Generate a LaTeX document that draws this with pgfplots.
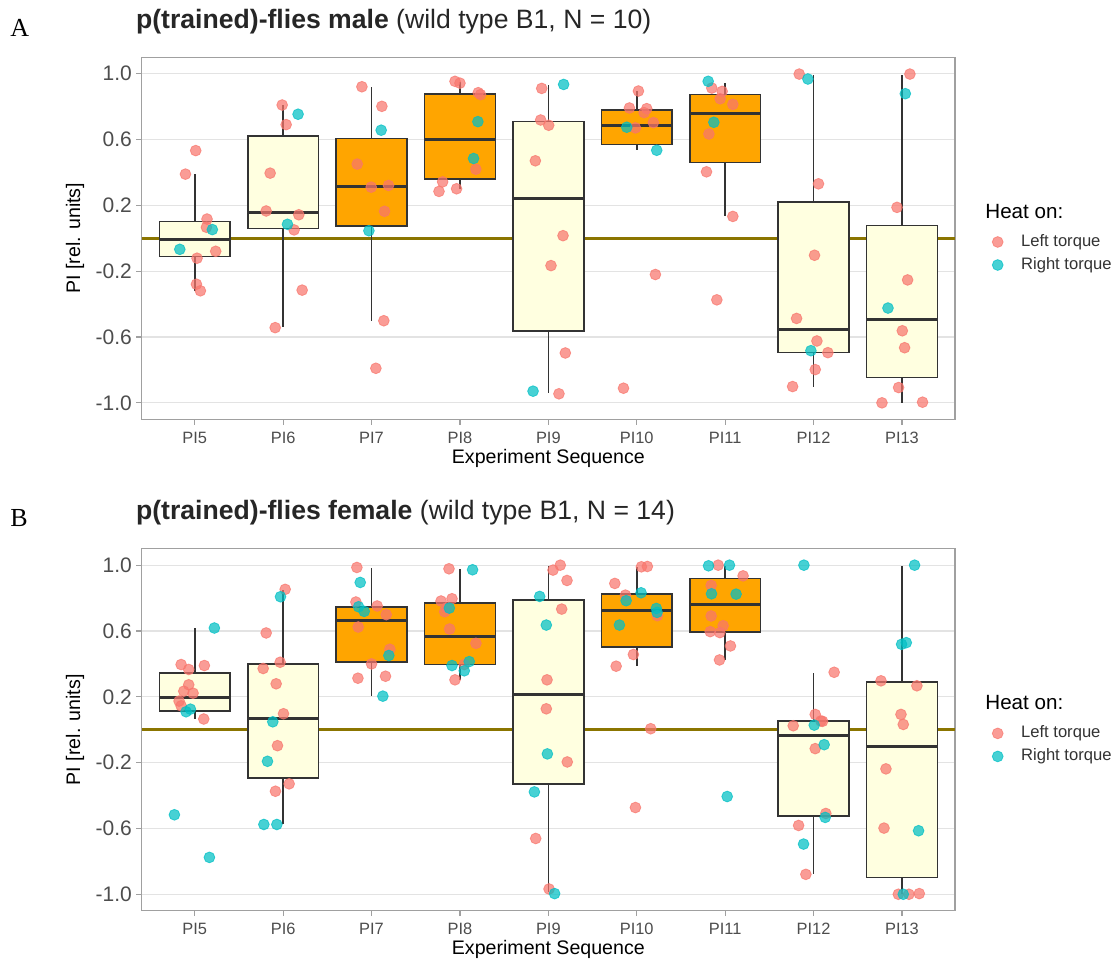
\documentclass[border=0pt]{standalone}
\usepackage{fontspec}
\setmainfont{Liberation Sans}
\newfontfamily\serifA{Liberation Serif}
\usepackage{pgfplots}
\usepackage{pgfplotstable}
\pgfplotsset{compat=1.18}
\usepgfplotslibrary{statistics}

\definecolor{pinkc}{HTML}{F8766D}
\definecolor{cyanc}{HTML}{00BFC4}
\definecolor{zeroc}{HTML}{8B7500}
\definecolor{boxc}{HTML}{333333}
\definecolor{lyel}{HTML}{FFFFE0}
\definecolor{orng}{HTML}{FFA500}
\definecolor{gridc}{HTML}{E3E3E3}
\definecolor{framec}{HTML}{A0A0A0}
\definecolor{tickc}{HTML}{4D4D4D}
\definecolor{titlec}{HTML}{262626}

% Panel A points: x = category index + jitter, y = PI
\pgfplotstableread{
x y
0.011 0.533
-0.105 0.390
0.139 0.117
0.132 0.067
0.237 -0.079
0.026 -0.121
0.019 -0.279
0.064 -0.319
0.989 0.810
1.034 0.691
0.853 0.396
0.808 0.166
1.177 0.143
1.124 0.051
1.215 -0.315
0.910 -0.543
1.891 0.921
2.117 0.802
1.838 0.451
1.996 0.311
2.192 0.321
2.147 0.164
2.139 -0.501
2.049 -0.790
2.944 0.954
3.000 0.943
3.207 0.885
3.233 0.873
3.180 0.420
2.804 0.343
2.763 0.285
2.962 0.301
3.925 0.911
3.913 0.719
4.004 0.687
3.853 0.471
4.166 0.016
4.030 -0.166
4.192 -0.697
4.120 -0.945
5.019 0.895
4.917 0.792
5.113 0.788
5.083 0.764
5.188 0.703
4.985 0.671
5.211 -0.220
4.850 -0.911
5.849 0.913
5.966 0.893
5.944 0.848
6.087 0.814
5.816 0.634
5.789 0.404
6.087 0.133
5.906 -0.374
6.838 0.998
7.056 0.331
7.011 -0.103
6.808 -0.487
7.038 -0.624
7.162 -0.695
7.019 -0.798
6.763 -0.901
8.090 0.998
7.944 0.188
8.064 -0.253
8.004 -0.562
8.030 -0.665
7.962 -0.907
7.774 -1.000
8.233 -0.996
}\Apink
\pgfplotstableread{
x y
0.199 0.053
-0.169 -0.067
1.169 0.754
1.049 0.085
2.109 0.657
1.970 0.046
3.203 0.709
3.154 0.485
4.173 0.935
3.827 -0.929
4.887 0.675
5.226 0.535
5.808 0.954
5.872 0.705
6.936 0.968
6.970 -0.683
8.038 0.879
7.842 -0.424
}\Acyan
% Panel B points
\pgfplotstableread{
x y
-0.154 0.396
0.109 0.390
-0.068 0.366
-0.068 0.273
-0.124 0.234
-0.019 0.222
-0.177 0.174
-0.154 0.145
0.102 0.065
1.023 0.853
0.808 0.588
0.774 0.372
0.966 0.410
0.921 0.279
1.004 0.097
0.936 -0.097
1.068 -0.329
0.913 -0.374
1.834 0.986
1.823 0.776
2.064 0.752
2.166 0.699
1.849 0.624
2.207 0.489
2.000 0.400
1.846 0.313
2.158 0.325
2.876 0.978
2.786 0.782
2.910 0.796
2.827 0.717
2.883 0.612
3.181 0.525
3.049 0.396
2.944 0.303
2.850 0.740
4.135 1.000
4.053 0.970
4.211 0.907
4.151 0.733
3.985 0.303
3.977 0.127
4.214 -0.196
3.857 -0.661
4.008 -0.968
5.053 0.990
5.120 0.992
4.752 0.889
4.872 0.818
5.233 0.693
4.962 0.457
4.767 0.386
5.158 0.006
4.985 -0.473
5.921 1.000
6.203 0.935
5.842 0.877
5.842 0.691
5.977 0.632
5.831 0.596
5.940 0.590
6.060 0.509
5.936 0.424
7.233 0.349
7.019 0.093
7.083 0.053
7.102 0.051
6.770 0.024
7.019 -0.115
7.139 -0.509
6.831 -0.582
6.913 -0.879
7.763 0.297
8.169 0.267
7.989 0.093
8.015 0.032
7.819 -0.238
7.797 -0.598
7.959 -1.000
8.079 -1.000
8.196 -0.996
}\Bpink
\pgfplotstableread{
x y
0.222 0.618
-0.049 0.125
-0.098 0.109
-0.230 -0.517
0.166 -0.776
0.970 0.808
0.883 0.048
0.823 -0.192
0.782 -0.576
0.929 -0.576
1.872 0.895
1.853 0.747
1.917 0.719
2.196 0.451
2.128 0.204
3.143 0.972
2.880 0.739
2.910 0.390
3.105 0.414
3.049 0.358
3.902 0.810
3.977 0.636
3.989 -0.147
3.842 -0.378
4.071 -0.996
4.880 0.784
5.049 0.832
5.222 0.737
5.230 0.713
4.804 0.636
5.812 0.996
6.049 1.000
5.846 0.826
6.124 0.824
6.023 -0.406
6.891 1.000
7.008 0.028
7.120 -0.091
7.132 -0.533
6.887 -0.695
8.143 1.000
7.996 0.519
8.049 0.529
8.188 -0.614
8.015 -1.000
}\Bcyan

\pgfplotsset{
  boxplot/draw direction=y,
  boxplot/every median/.style={line width=1.5pt},
  panel/.style={
    scale only axis, width=406.65pt, height=181pt,
    xmin=-0.6, xmax=8.6, ymin=-1.1, ymax=1.1,
    xtick={0,1,2,3,4,5,6,7,8},
    xticklabels={PI5,PI6,PI7,PI8,PI9,PI10,PI11,PI12,PI13},
    ytick={-1,-0.6,-0.2,0.2,0.6,1},
    yticklabels={-1.0,-0.6,-0.2,0.2,0.6,1.0},
    ymajorgrids, grid style={gridc, line width=0.6pt},
    axis line style={framec, line width=0.75pt},
    tick align=outside, major tick length=2.75pt, tick pos=left,
    tick style={framec, line width=0.6pt},
    xticklabel style={font=\fontsize{8.2}{10}\selectfont, text=tickc},
    yticklabel style={font=\fontsize{10.5}{12}\selectfont, text=tickc, inner xsep=2pt},
    xlabel={Experiment Sequence},
    ylabel={PI [rel. units]},
    every axis x label/.style={font=\fontsize{9.8}{12}\selectfont, at={(axis description cs:0.5,-0.107)}, anchor=center},
    every axis y label/.style={font=\fontsize{9.8}{12}\selectfont, at={(axis description cs:-0.082,0.5)}, anchor=center, rotate=90},
    every axis title/.style={at={(axis description cs:0,1)}, anchor=base west, xshift=-3pt, yshift=14.5pt, font=\fontsize{13.3}{16}\selectfont, text=titlec, inner sep=0pt},
    legend style={at={(axis description cs:1.0454,0.458)}, anchor=west, draw=none, fill=none,
      inner xsep=0pt, inner ysep=0pt, font=\fontsize{8.3}{10}\selectfont, row sep=0pt,
      nodes={inner sep=2pt, text=boxc},
      /tikz/every odd column/.style={column sep=7pt}},
    legend cell align=left,
    clip=false,
  },
  lbox/.style={draw=boxc, line width=0.8pt, fill=lyel, forget plot,
    boxplot/every whisker/.style={draw=boxc, line width=0.8pt}},
  obox/.style={draw=boxc, line width=0.8pt, fill=orng, forget plot,
    boxplot/every whisker/.style={draw=boxc, line width=0.8pt}},
  pdot/.style={only marks, mark=*, mark size=2.7pt, color=pinkc, opacity=0.72, forget plot},
  cdot/.style={only marks, mark=*, mark size=2.7pt, color=cyanc, opacity=0.72, forget plot},
}

\begin{document}
\begin{tikzpicture}
\path[use as bounding box] (0,0) rectangle (559pt,-481pt);

\node[anchor=base west, inner sep=0pt, font=\serifA\fontsize{13}{15}\selectfont] at (5pt,-18.4pt) {A};
\node[anchor=base west, inner sep=0pt, font=\serifA\fontsize{13}{15}\selectfont] at (5pt,-263.4pt) {B};

% ---------------- Panel A ----------------
\begin{axis}[panel, at={(70.85pt,-209.65pt)}, anchor=south west,
  title={\textbf{p(trained)-flies male} (wild type B1, N = 10)}]
\addlegendimage{only marks, mark=*, mark size=2.7pt, color=pinkc, opacity=0.72}
\addlegendentry{Left torque}
\addlegendimage{only marks, mark=*, mark size=2.7pt, color=cyanc, opacity=0.72}
\addlegendentry{Right torque}
\addplot[zeroc, line width=1.5pt, forget plot] coordinates {(-0.6,0) (8.6,0)};
\addplot[lbox, boxplot prepared={draw position=0, box extend=0.8, whisker extend=0, lower whisker=-0.319, lower quartile=-0.111, median=-0.008, upper quartile=0.101, upper whisker=0.388}] coordinates {};
\addplot[lbox, boxplot prepared={draw position=1, box extend=0.8, whisker extend=0, lower whisker=-0.541, lower quartile=0.059, median=0.156, upper quartile=0.620, upper whisker=0.810}] coordinates {};
\addplot[obox, boxplot prepared={draw position=2, box extend=0.8, whisker extend=0, lower whisker=-0.501, lower quartile=0.075, median=0.315, upper quartile=0.606, upper whisker=0.919}] coordinates {};
\addplot[obox, boxplot prepared={draw position=3, box extend=0.8, whisker extend=0, lower whisker=0.299, lower quartile=0.360, median=0.598, upper quartile=0.877, upper whisker=0.949}] coordinates {};
\addplot[lbox, boxplot prepared={draw position=4, box extend=0.8, whisker extend=0, lower whisker=-0.943, lower quartile=-0.564, median=0.244, upper quartile=0.709, upper whisker=0.933}] coordinates {};
\addplot[obox, boxplot prepared={draw position=5, box extend=0.8, whisker extend=0, lower whisker=0.539, lower quartile=0.570, median=0.687, upper quartile=0.780, upper whisker=0.893}] coordinates {};
\addplot[obox, boxplot prepared={draw position=6, box extend=0.8, whisker extend=0, lower whisker=0.133, lower quartile=0.461, median=0.760, upper quartile=0.875, upper whisker=0.945}] coordinates {};
\addplot[lbox, boxplot prepared={draw position=7, box extend=0.8, whisker extend=0, lower whisker=-0.901, lower quartile=-0.693, median=-0.556, upper quartile=0.222, upper whisker=0.994}] coordinates {};
\addplot[lbox, boxplot prepared={draw position=8, box extend=0.8, whisker extend=0, lower whisker=-1.000, lower quartile=-0.846, median=-0.493, upper quartile=0.077, upper whisker=0.994}] coordinates {};
\addplot[pdot] table[x=x,y=y] {\Apink};
\addplot[cdot] table[x=x,y=y] {\Acyan};
\node[anchor=base west, font=\fontsize{10.3}{12}\selectfont, text=black, inner sep=0pt] at (axis description cs:1.0369,0.556) {Heat on:};
\end{axis}

% ---------------- Panel B ----------------
\begin{axis}[panel, at={(70.85pt,-455.35pt)}, anchor=south west,
  title={\textbf{p(trained)-flies female} (wild type B1, N = 14)}]
\addlegendimage{only marks, mark=*, mark size=2.7pt, color=pinkc, opacity=0.72}
\addlegendentry{Left torque}
\addlegendimage{only marks, mark=*, mark size=2.7pt, color=cyanc, opacity=0.72}
\addlegendentry{Right torque}
\addplot[zeroc, line width=1.5pt, forget plot] coordinates {(-0.6,0) (8.6,0)};
\addplot[lbox, boxplot prepared={draw position=0, box extend=0.8, whisker extend=0, lower whisker=0.067, lower quartile=0.113, median=0.196, upper quartile=0.343, upper whisker=0.616}] coordinates {};
\addplot[lbox, boxplot prepared={draw position=1, box extend=0.8, whisker extend=0, lower whisker=-0.576, lower quartile=-0.295, median=0.071, upper quartile=0.400, upper whisker=0.848}] coordinates {};
\addplot[obox, boxplot prepared={draw position=2, box extend=0.8, whisker extend=0, lower whisker=0.204, lower quartile=0.412, median=0.661, upper quartile=0.747, upper whisker=0.984}] coordinates {};
\addplot[obox, boxplot prepared={draw position=3, box extend=0.8, whisker extend=0, lower whisker=0.305, lower quartile=0.396, median=0.568, upper quartile=0.770, upper whisker=0.976}] coordinates {};
\addplot[lbox, boxplot prepared={draw position=4, box extend=0.8, whisker extend=0, lower whisker=-0.984, lower quartile=-0.331, median=0.214, upper quartile=0.790, upper whisker=0.996}] coordinates {};
\addplot[obox, boxplot prepared={draw position=5, box extend=0.8, whisker extend=0, lower whisker=0.386, lower quartile=0.501, median=0.723, upper quartile=0.824, upper whisker=0.988}] coordinates {};
\addplot[obox, boxplot prepared={draw position=6, box extend=0.8, whisker extend=0, lower whisker=0.426, lower quartile=0.592, median=0.758, upper quartile=0.919, upper whisker=0.996}] coordinates {};
\addplot[lbox, boxplot prepared={draw position=7, box extend=0.8, whisker extend=0, lower whisker=-0.877, lower quartile=-0.525, median=-0.034, upper quartile=0.053, upper whisker=0.345}] coordinates {};
\addplot[lbox, boxplot prepared={draw position=8, box extend=0.8, whisker extend=0, lower whisker=-1.000, lower quartile=-0.899, median=-0.105, upper quartile=0.289, upper whisker=0.996}] coordinates {};
\addplot[pdot] table[x=x,y=y] {\Bpink};
\addplot[cdot] table[x=x,y=y] {\Bcyan};
\node[anchor=base west, font=\fontsize{10.3}{12}\selectfont, text=black, inner sep=0pt] at (axis description cs:1.0369,0.556) {Heat on:};
\end{axis}
\end{tikzpicture}
\end{document}
